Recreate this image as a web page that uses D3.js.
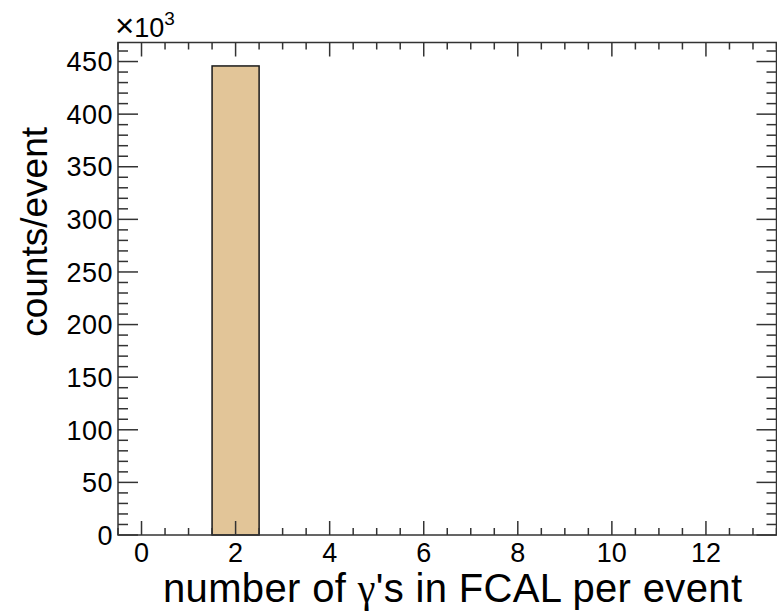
<!DOCTYPE html>
<html>
<head>
<meta charset="utf-8">
<script src="https://cdn.jsdelivr.net/npm/d3@7/dist/d3.min.js"></script>
<style>
  html, body { margin: 0; padding: 0; background: #fff; }
  svg { display: block; }
  text { font-family: "Liberation Sans", Arial, Helvetica, sans-serif; fill: #000; }
</style>
</head>
<body>
<svg id="chart" width="777" height="613"></svg>
<script>
// Photon multiplicity per event in the FCAL: one bin per integer count
const binCenters = [0, 1, 2, 3, 4, 5, 6, 7, 8, 9, 10, 11, 12, 13];
const binCounts  = [0, 0, 445800, 0, 0, 0, 0, 0, 0, 0, 0, 0, 0, 0];
const xTickLabels = [0, 2, 4, 6, 8, 10, 12];
const yTickLabels = [0, 50, 100, 150, 200, 250, 300, 350, 400, 450]; // in units of 10^3

const xTitleParts = ["number of ", "\u03b3", "'s in FCAL per event"];
const yTitle = "counts/event";

const frame = { left: 118, right: 776.5, top: 42.5, bottom: 535 };

const svg = d3.select("#chart");

const x = d3.scaleLinear()
  .domain([binCenters[0] - 0.5, binCenters[binCenters.length - 1] + 0.5])
  .range([frame.left, frame.right]);

const y = d3.scaleLinear()
  .domain([0, 1.05 * d3.max(binCounts)])
  .range([frame.bottom, frame.top]);

// histogram bars
const bars = binCenters.map((c, i) => ({ c, v: binCounts[i] })).filter(d => d.v > 0);
svg.append("g").selectAll("rect").data(bars).join("rect")
  .attr("x", d => x(d.c - 0.5))
  .attr("width", d => x(d.c + 0.5) - x(d.c - 0.5))
  .attr("y", d => y(d.v))
  .attr("height", d => y(0) - y(d.v))
  .attr("fill", "#e2c598")
  .attr("stroke", "#1a1a1a")
  .attr("stroke-width", 1.5);

const axisColor = "#333";
const xMinor = d3.range(-0.5, 13.5001, 0.5);
const xMajor = xTickLabels;
const yMinor = d3.range(0, y.domain()[1] / 1000, 10).map(v => v * 1000);
const yMajor = yTickLabels.map(v => v * 1000);

// x ticks on bottom and top edges, pointing into the frame
function xTicks(g, yPos, dir) {
  g.selectAll("line.minor").data(xMinor.filter(v => !xMajor.includes(v))).join("line")
    .attr("class", "minor")
    .attr("x1", d => x(d)).attr("x2", d => x(d))
    .attr("y1", yPos).attr("y2", yPos + dir * 7)
    .attr("stroke", axisColor).attr("stroke-width", 1.5);
  g.selectAll("line.major").data(xMajor).join("line")
    .attr("class", "major")
    .attr("x1", d => x(d)).attr("x2", d => x(d))
    .attr("y1", yPos).attr("y2", yPos + dir * 14)
    .attr("stroke", axisColor).attr("stroke-width", 1.5);
}
// y ticks on left and right edges, pointing into the frame
function yTicks(g, xPos, dir) {
  g.selectAll("line.minor").data(yMinor.filter(v => !yMajor.includes(v))).join("line")
    .attr("class", "minor")
    .attr("y1", d => y(d)).attr("y2", d => y(d))
    .attr("x1", xPos).attr("x2", xPos + dir * 10)
    .attr("stroke", axisColor).attr("stroke-width", 1.5);
  g.selectAll("line.major").data(yMajor).join("line")
    .attr("class", "major")
    .attr("y1", d => y(d)).attr("y2", d => y(d))
    .attr("x1", xPos).attr("x2", xPos + dir * 20)
    .attr("stroke", axisColor).attr("stroke-width", 1.5);
}

const axes = svg.append("g");
xTicks(axes.append("g"), frame.bottom, -1);
xTicks(axes.append("g"), frame.top, 1);
yTicks(axes.append("g"), frame.left, 1);
yTicks(axes.append("g"), frame.right, -1);

// frame
axes.append("rect")
  .attr("x", frame.left).attr("y", frame.top)
  .attr("width", frame.right - frame.left).attr("height", frame.bottom - frame.top)
  .attr("fill", "none").attr("stroke", axisColor).attr("stroke-width", 1.5);

// tick labels
svg.append("g").selectAll("text").data(xTickLabels).join("text")
  .attr("x", d => x(d)).attr("y", 562)
  .attr("text-anchor", "middle")
  .attr("font-size", 27)
  .text(d => d);

svg.append("g").selectAll("text").data(yTickLabels).join("text")
  .attr("x", 113).attr("y", d => y(d * 1000))
  .attr("dy", "0.36em")
  .attr("text-anchor", "end")
  .attr("font-size", 27)
  .attr("letter-spacing", 0.5)
  .text(d => d);

// exponent marker
const ex = svg.append("text").attr("x", 115).attr("y", 37).attr("font-size", 27);
ex.append("tspan").attr("font-size", 33).text("\u00d7");
ex.append("tspan").text("10");
ex.append("tspan").attr("dy", -12).attr("font-size", 19).text("3");

// axis titles
const xt = svg.append("text")
  .attr("x", 163).attr("y", 602)
  .attr("font-size", 40)
  .attr("textLength", 579)
  .attr("lengthAdjust", "spacing");
xt.append("tspan").text(xTitleParts[0]);
xt.append("tspan")
  .style("font-family", "'Liberation Serif', 'DejaVu Serif', serif")
  .text(xTitleParts[1]);
xt.append("tspan").text(xTitleParts[2]);

svg.append("text")
  .attr("transform", "translate(46.5,127) rotate(-90)")
  .attr("text-anchor", "end")
  .attr("font-size", 37)
  .text(yTitle);
</script>
</body>
</html>
